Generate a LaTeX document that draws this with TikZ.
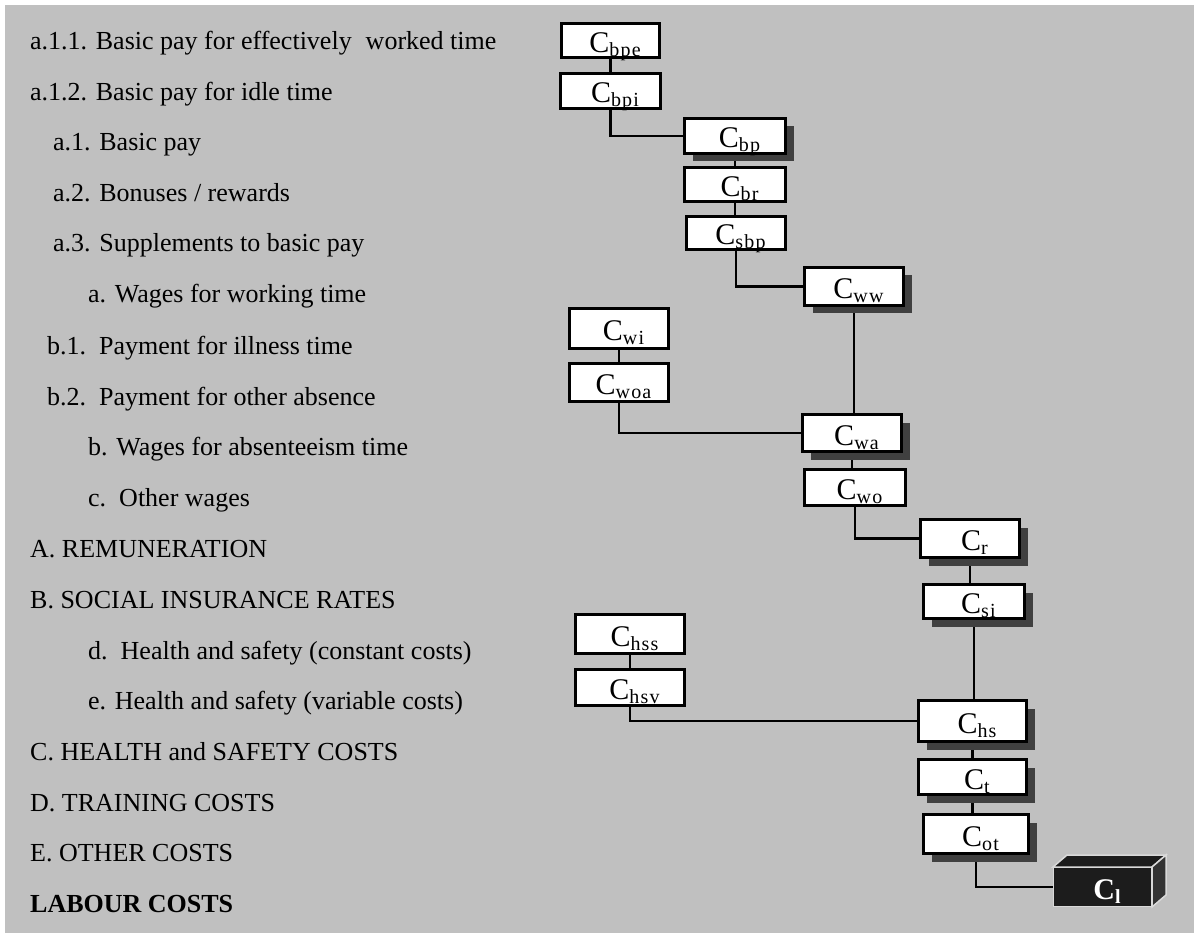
\documentclass[tikz,border=0pt]{standalone}
\usepackage{fontspec}
\setmainfont{Liberation Serif}
\usetikzlibrary{shadows}
\definecolor{bggray}{HTML}{C0C0C0}
\definecolor{shadowgray}{HTML}{404040}
\definecolor{darkbox}{HTML}{1C1C1C}
\definecolor{darkside}{HTML}{333333}
\pgfdeclarelayer{bglayer}
\pgfdeclarelayer{lines}
\pgfsetlayers{bglayer,lines,main}
\newcommand{\cc}[1]{\hspace*{9pt}{\fontsize{30}{30}\selectfont C}\raisebox{-4pt}{\fontsize{20}{20}\selectfont\addfontfeature{LetterSpace=6}#1}}
\tikzset{
  cbox/.style={draw=black, line width=2.8pt, fill=white, inner sep=0pt, anchor=center, text depth=0pt, text height=24pt},
  sbox/.style={cbox, drop shadow={shadow xshift=8pt, shadow yshift=-8pt, fill=shadowgray, opacity=1}},
  lbl/.style={anchor=base west, inner sep=0pt, font=\fontsize{26}{26}\selectfont},
  conn/.style={draw=black, line width=2.2pt},
}
\begin{document}
\begin{tikzpicture}[x=1pt,y=-1pt]
\useasboundingbox (0,0) rectangle (1194,933);
\begin{pgfonlayer}{bglayer}
\fill[white] (0,0) rectangle (1194,933);
\fill[bggray] (5,5) rectangle (1194,933);
\end{pgfonlayer}

% left labels
\node[lbl] (t1) at (30,50) {a.1.1. Basic pay for effectively\hspace{14pt}worked time};
\node[lbl] (t2) at (30,101) {a.1.2. Basic pay for idle time};
\node[lbl] (t3) at (53,151) {a.1. Basic pay};
\node[lbl] (t4) at (53,202) {a.2. Bonuses / rewards};
\node[lbl] (t5) at (53,252) {a.3. Supplements to basic pay};
\node[lbl] (t6) at (88,303) {a. Wages for working time};
\node[lbl] (t7) at (47,354) {b.1.\ \ Payment for illness time};
\node[lbl] (t8) at (47,405) {b.2.\ \ Payment for other absence};
\node[lbl] (t9) at (88,455) {b. Wages for absenteeism time};
\node[lbl] (t10) at (88,506) {c.\ \ Other wages};
\node[lbl] (t11) at (30,557) {A. REMUNERATION};
\node[lbl] (t12) at (30,608) {B. SOCIAL INSURANCE RATES};
\node[lbl] (t13) at (88,659) {d.\ \ Health and safety (constant costs)};
\node[lbl] (t14) at (88,709) {e. Health and safety (variable costs)};
\node[lbl] (t15) at (30,760) {C. HEALTH and SAFETY COSTS};
\node[lbl] (t16) at (30,811) {D. TRAINING COSTS};
\node[lbl] (t17) at (30,861) {E. OTHER COSTS};
\node[lbl, font=\fontsize{26}{26}\selectfont\bfseries] (t18) at (30,912) {LABOUR COSTS};

% boxes
\node[cbox, minimum width=98pt, minimum height=34pt] (cbpe) at (610.5,40.5) {\cc{bpe}};
\node[cbox, minimum width=100pt, minimum height=35pt] (cbpi) at (610.5,91) {\cc{bpi}};
\node[sbox, minimum width=101pt, minimum height=35pt] (cbp) at (735,136) {\cc{bp}};
\node[cbox, minimum width=101pt, minimum height=34pt] (cbr) at (735,184.5) {\cc{br}};
\node[cbox, minimum width=99pt, minimum height=33pt] (csbp) at (736,233) {\cc{sbp}};
\node[sbox, minimum width=99pt, minimum height=38pt] (cww) at (854,286.5) {\cc{ww}};
\node[cbox, minimum width=99pt, minimum height=40pt] (cwi) at (619,328.5) {\cc{wi}};
\node[cbox, minimum width=99pt, minimum height=38pt] (cwoa) at (619,382.5) {\cc{woa}};
\node[sbox, minimum width=99pt, minimum height=37pt] (cwa) at (852,433) {\cc{wa}};
\node[cbox, minimum width=101pt, minimum height=36pt] (cwo) at (855,487.5) {\cc{wo}};
\node[sbox, minimum width=99pt, minimum height=38pt] (cr) at (970,538.5) {\cc{r}};
\node[sbox, minimum width=101pt, minimum height=34pt] (csi) at (974,601.5) {\cc{si}};
\node[cbox, minimum width=109pt, minimum height=39pt] (chss) at (630,634) {\cc{hss}};
\node[cbox, minimum width=109pt, minimum height=36pt] (chsv) at (630,687.5) {\cc{hsv}};
\node[sbox, minimum width=108pt, minimum height=41pt] (chs) at (972.5,721) {\cc{hs}};
\node[sbox, minimum width=108pt, minimum height=35pt] (ct) at (972.5,777) {\cc{t}};
\node[sbox, minimum width=105pt, minimum height=39pt] (cot) at (976,834) {\cc{ot}};

% 3D dark box
\fill[darkbox, draw=white!85!black, line width=1.5pt] (1053,867) -- (1067,855) -- (1166,855) -- (1152,867) -- cycle;
\fill[darkside, draw=white!85!black, line width=1.5pt] (1152,867) -- (1166,855) -- (1166,895) -- (1152,907) -- cycle;
\node[draw=white!85!black, fill=darkbox, line width=1.5pt, minimum width=98pt, minimum height=39pt, inner sep=0pt, text=white, text depth=0pt, text height=24pt] (cl) at (1102.5,887) {\bfseries\cc{l}};

% connectors
\begin{pgfonlayer}{lines}
\draw[conn] (cbpe.south) -- (cbpe.south |- cbpi.north);
\draw[conn] (cbpi.south) |- (cbp.west);
\draw[conn] (cbp.south) -- (cbp.south |- cbr.north);
\draw[conn] (cbr.south) -- (cbr.south |- csbp.north);
\draw[conn] (csbp.south) |- (cww.west);
\draw[conn] (cww.south) -- (cww.south |- cwa.north);
\draw[conn] (cwi.south) -- (cwi.south |- cwoa.north);
\draw[conn] (cwoa.south) |- (cwa.west);
\draw[conn] (cwa.south) -- (cwa.south |- cwo.north);
\draw[conn] (cwo.south) |- (cr.west);
\draw[conn] (cr.south) -- (cr.south |- csi.north);
\draw[conn] (csi.south) -- (csi.south |- chs.north);
\draw[conn] (chss.south) -- (chss.south |- chsv.north);
\draw[conn] (chsv.south) |- (chs.west);
\draw[conn] (chs.south) -- (chs.south |- ct.north);
\draw[conn] (ct.south) -- (ct.south |- cot.north);
\draw[conn] (cot.south) |- (cl.west);
\end{pgfonlayer}
\end{tikzpicture}
\end{document}
